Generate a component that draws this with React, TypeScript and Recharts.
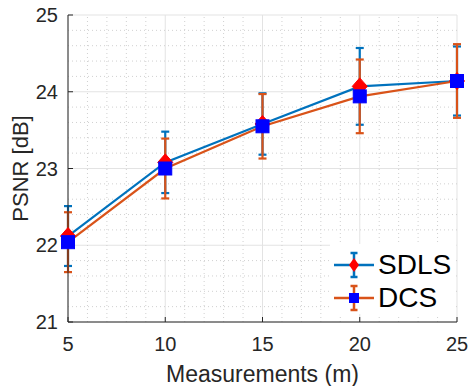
import {
  ComposedChart,
  Line,
  XAxis,
  YAxis,
  CartesianGrid,
  ErrorBar,
  ReferenceLine,
  Legend,
  Label,
} from "recharts";

const measurements = [5, 10, 15, 20, 25];
const sdlsPsnr = [22.12, 23.08, 23.58, 24.07, 24.14];
const sdlsErr = [0.39, 0.4, 0.4, 0.5, 0.45];
const dcsPsnr = [22.04, 23.0, 23.55, 23.94, 24.14];
const dcsErr = [0.39, 0.39, 0.42, 0.48, 0.48];

const xTicks = [5, 10, 15, 20, 25];
const yTicks = [21, 22, 23, 24, 25];
const xMinor = [6, 7, 8, 9, 11, 12, 13, 14, 16, 17, 18, 19, 21, 22, 23, 24];
const yMinor = [
  21.2, 21.4, 21.6, 21.8, 22.2, 22.4, 22.6, 22.8, 23.2, 23.4, 23.6, 23.8,
  24.2, 24.4, 24.6, 24.8,
];

const BLUE = "#0072BD";
const ORANGE = "#D95319";
const AXIS = "#262626";

const data = measurements.map((m, i) => ({
  m,
  sdls: sdlsPsnr[i],
  sdlsErr: sdlsErr[i],
  dcs: dcsPsnr[i],
  dcsErr: dcsErr[i],
}));

// red diamond markers for SDLS
const Diamond = (p: any) => {
  const { cx, cy, index } = p;
  if (cx == null || cy == null) return <g key={`d${index}`} />;
  return (
    <path
      key={`d${index}`}
      d={`M${cx},${cy - 8.5}L${cx + 7.5},${cy}L${cx},${cy + 8.5}L${cx - 7.5},${cy}Z`}
      fill="#FF0000"
      stroke="#FF0000"
    />
  );
};

// blue square markers for DCS
const Square = (p: any) => {
  const { cx, cy, index } = p;
  if (cx == null || cy == null) return <g key={`s${index}`} />;
  return (
    <rect
      key={`s${index}`}
      x={cx - 6.5}
      y={cy - 6.5}
      width={13}
      height={13}
      fill="#0000FF"
      stroke="#0000FF"
    />
  );
};

const legendItems = [
  { name: "SDLS", color: BLUE, marker: "diamond" },
  { name: "DCS", color: ORANGE, marker: "square" },
];

const LegendBox = () => (
  <div style={{ background: "#fff", paddingTop: 4 }}>
    {legendItems.map((it) => (
      <div
        key={it.name}
        style={{ display: "flex", alignItems: "center", height: 33 }}
      >
        <svg width={44} height={30} style={{ marginLeft: 2 }}>
          <line x1={2} y1={15} x2={42} y2={15} stroke={it.color} strokeWidth={2.5} />
          <line x1={22} y1={3} x2={22} y2={27} stroke={it.color} strokeWidth={2.5} />
          <line x1={18.5} y1={3} x2={25.5} y2={3} stroke={it.color} strokeWidth={2.5} />
          <line x1={18.5} y1={27} x2={25.5} y2={27} stroke={it.color} strokeWidth={2.5} />
          {it.marker === "diamond" ? (
            <path d="M22,8L27,15L22,22L17,15Z" fill="#FF0000" />
          ) : (
            <rect x={17} y={10} width={10} height={10} fill="#0000FF" />
          )}
        </svg>
        <span style={{ fontSize: 28, color: "#000", marginLeft: 2 }}>
          {it.name}
        </span>
      </div>
    ))}
  </div>
);

export default function App() {
  return (
    <div
      style={{
        position: "absolute",
        left: 0,
        top: 0,
        width: 470,
        height: 386,
        background: "#fff",
        fontFamily: "'Liberation Sans', Arial, sans-serif",
      }}
    >
      <ComposedChart
        width={470}
        height={386}
        data={data}
        margin={{ top: 15, right: 13, bottom: 0, left: 0 }}
      >
        <CartesianGrid stroke="#E3E3E3" strokeWidth={1} />
        {xMinor.map((v) => (
          <ReferenceLine
            key={`vx${v}`}
            x={v}
            stroke="#D0D0D0"
            strokeDasharray="1 3"
          />
        ))}
        {yMinor.map((v) => (
          <ReferenceLine
            key={`hy${v}`}
            y={v}
            stroke="#D0D0D0"
            strokeDasharray="1 3"
          />
        ))}
        <XAxis
          dataKey="m"
          type="number"
          domain={[5, 25]}
          ticks={xTicks}
          height={64}
          stroke={AXIS}
          tickSize={-5}
          tickMargin={20}
          tick={{ fill: AXIS, fontSize: 20 }}
        >
          <Label
            value="Measurements (m)"
            position="insideBottom"
            offset={4}
            style={{ fill: AXIS, fontSize: 23 }}
          />
        </XAxis>
        <XAxis
          xAxisId="top"
          orientation="top"
          type="number"
          domain={[5, 25]}
          ticks={xTicks}
          height={0}
          stroke={AXIS}
          tickSize={-5}
          tickFormatter={() => ""}
        />
        <YAxis
          type="number"
          domain={[21, 25]}
          ticks={yTicks}
          width={68}
          stroke={AXIS}
          tickSize={-5}
          tickMargin={15}
          tick={{ fill: AXIS, fontSize: 20 }}
        >
          <Label
            value="PSNR [dB]"
            content={(props: any) => {
              const vb = props.viewBox;
              const x = vb.x + 20;
              const y = vb.y + vb.height / 2;
              return (
                <text
                  x={x}
                  y={y}
                  transform={`rotate(-90 ${x} ${y})`}
                  textAnchor="middle"
                  dominantBaseline="central"
                  fontSize={22}
                  fill={AXIS}
                >
                  PSNR [dB]
                </text>
              );
            }}
          />
        </YAxis>
        <YAxis
          yAxisId="right"
          orientation="right"
          type="number"
          domain={[21, 25]}
          ticks={yTicks}
          width={0}
          stroke={AXIS}
          tickSize={-5}
          tickFormatter={() => ""}
        />
        <Line
          dataKey="sdls"
          stroke={BLUE}
          strokeWidth={2.2}
          dot={Diamond}
          activeDot={false}
          isAnimationActive={false}
        >
          <ErrorBar
            dataKey="sdlsErr"
            direction="y"
            width={4}
            stroke={BLUE}
            strokeWidth={2.2}
            isAnimationActive={false}
          />
        </Line>
        <Line
          dataKey="dcs"
          stroke={ORANGE}
          strokeWidth={2.2}
          dot={Square}
          activeDot={false}
          isAnimationActive={false}
        >
          <ErrorBar
            dataKey="dcsErr"
            direction="y"
            width={4}
            stroke={ORANGE}
            strokeWidth={2.2}
            isAnimationActive={false}
          />
        </Line>
        <Legend
          layout="horizontal"
          verticalAlign="middle"
          align="center"
          content={<LegendBox />}
          wrapperStyle={{ left: 330, top: 244, width: 126, height: 74 }}
        />
      </ComposedChart>
    </div>
  );
}
